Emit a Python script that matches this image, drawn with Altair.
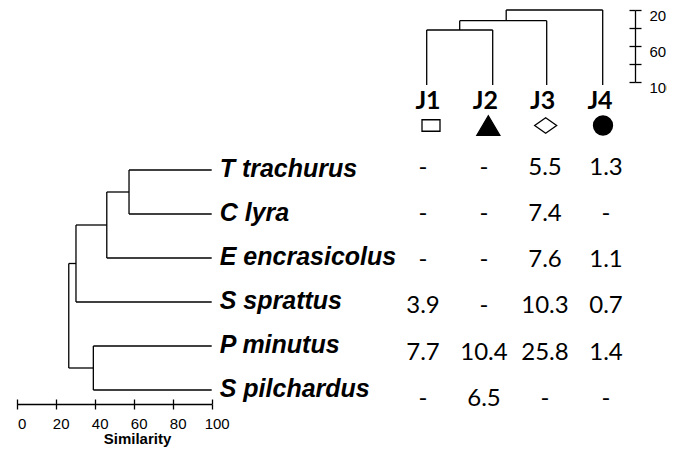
import altair as alt
import pandas as pd

# ---------------- data ----------------
species = ["T trachurus", "C lyra", "E encrasicolus", "S sprattus", "P minutus", "S pilchardus"]
# species dendrogram merges: (child a, child b, similarity %) ; "mK" = K-th merge
species_merges = [
    ("T trachurus", "C lyra", 57.6),
    ("m1", "E encrasicolus", 46.2),
    ("m2", "S sprattus", 30.4),
    ("P minutus", "S pilchardus", 39.3),
    ("m3", "m4", 26.7),
]
species_leaf_similarity = 100

groups = ["J1", "J2", "J3", "J4"]
group_merges = [
    ("J1", "J2", 42.2),
    ("m1", "J3", 31.9),
    ("m2", "J4", 20.0),
]
group_leaf_similarity = 103.3  # leaf stems hang slightly below the 100 mark

j1 = [None, None, None, 3.9, 7.7, None]
j2 = [None, None, None, None, 10.4, 6.5]
j3 = [5.5, 7.4, 7.6, 10.3, 25.8, None]
j4 = [1.3, None, 1.1, 0.7, 1.4, None]

left_ticks = [0, 20, 40, 60, 80, 100]
top_ticks = [20, 40, 60, 80, 100]


# ---------------- helpers ----------------
def dendro(leaves, merges, leaf_sim):
    pos = {l: i for i, l in enumerate(leaves)}
    sim = {l: leaf_sim for l in leaves}
    conn, stems = [], []
    for k, (a, b, s) in enumerate(merges, start=1):
        conn.append({"s": s, "p": pos[a], "p2": pos[b]})
        for c in (a, b):
            stems.append({"s": s, "s2": sim[c], "p": pos[c]})
        pos[f"m{k}"] = (pos[a] + pos[b]) / 2
        sim[f"m{k}"] = s
    return pd.DataFrame(conn), pd.DataFrame(stems)


left_conn, left_stems = dendro(species, species_merges, species_leaf_similarity)
top_conn, top_stems = dendro(groups, group_merges, group_leaf_similarity)

species_df = pd.DataFrame({"name": species, "pos": range(len(species)),
                           "sim": [species_leaf_similarity] * len(species)})
groups_df = pd.DataFrame({"g": groups, "i": range(len(groups))})

rows = []
for ci, col in enumerate([j1, j2, j3, j4]):
    for ri, v in enumerate(col):
        rows.append({"c": ci, "r": ri, "t": "-" if v is None else f"{v:.1f}"})
table_df = pd.DataFrame(rows)

# ---------------- scales (layout) ----------------
W, H = 659, 439
LX = alt.Scale(domain=[0, 100], range=[8.7, 203.7])
LY = alt.Scale(domain=[0, 5], range=[162, 382])
TX = alt.Scale(domain=[0, 1, 2, 3], range=[418.7, 484.7, 538.7, 594.7])
TY = alt.Scale(domain=[20, 100], range=[2, 74])
VX = alt.Scale(domain=[0, 3], range=[415, 598])
VY = alt.Scale(domain=[0, 5], range=[160, 390.7])
JX = alt.Scale(domain=[0, 3], range=[420, 592])
SX = alt.Scale(domain=[0, 3], range=[423, 595])

LINE = dict(color="black", strokeWidth=1.3)
SANS = "Liberation Sans"
CAL = "Lato"

# left dendrogram
left_v = alt.Chart(left_conn).mark_rule(**LINE).encode(
    x=alt.X("s:Q", scale=LX, axis=alt.Axis(
        orient="bottom", offset=396 - H, values=left_ticks, tickSize=5,
        labelPadding=7, labelOffset=5, labelFontSize=15, labelFont=SANS, labelFlush=False,
        title="Similarity", titleX=129, titleY=39.5, titleBaseline="alphabetic",
        titleFont=SANS, titleFontSize=15, titleFontWeight="bold", titleColor="black")),
    y=alt.Y("p:Q", scale=LY, axis=None),
    y2="p2:Q",
)
left_h = alt.Chart(left_stems).mark_rule(**LINE).encode(
    x=alt.X("s:Q", scale=LX, axis=alt.Axis(
        orient="top", offset=-396, values=left_ticks, tickSize=5,
        labels=False, domain=False, title=None)),
    x2="s2:Q",
    y=alt.Y("p:Q", scale=LY, axis=None),
)
labels = alt.Chart(species_df).mark_text(
    align="left", baseline="middle", dx=8, dy=-1, font=SANS, fontSize=25,
    fontStyle="italic", fontWeight="bold", color="black").encode(
    x=alt.X("sim:Q", scale=LX, axis=None),
    y=alt.Y("pos:Q", scale=LY, axis=None),
    text="name:N",
)

# top dendrogram
top_h = alt.Chart(top_conn).mark_rule(**LINE).encode(
    x=alt.X("p:Q", scale=TX, axis=None),
    x2="p2:Q",
    y=alt.Y("s:Q", scale=TY, axis=alt.Axis(
        orient="right", offset=627 - W, values=top_ticks, tickSize=6,
        labelPadding=8, labelOffset=5, labelFontSize=15, labelFont=SANS, labelFlush=False,
        labelExpr="datum.value % 40 == 20 ? datum.label : ''", title=None)),
)
top_v = alt.Chart(top_stems).mark_rule(**LINE).encode(
    x=alt.X("p:Q", scale=TX, axis=None),
    y=alt.Y("s:Q", scale=TY, axis=alt.Axis(
        orient="left", offset=-627, values=top_ticks, tickSize=6,
        labels=False, domain=False, title=None)),
    y2="s2:Q",
)

jlab = alt.Chart(groups_df).mark_text(
    align="center", baseline="middle", font=CAL, fontSize=25, fontWeight="bold",
    color="black").encode(
    x=alt.X("i:Q", scale=JX, axis=None),
    y=alt.value(92.5),
    text="g:N",
)

RECT = "M-1,-0.64H1V0.64H-1Z"
TRI = "M0,-0.85L1,0.85L-1,0.85Z"
DIA = "M0,-0.7L1,0L0,0.7L-1,0Z"
syms = alt.Chart(groups_df).mark_point(
    filled=True, stroke="black", strokeWidth=1.3, opacity=1, fillOpacity=1).encode(
    x=alt.X("i:Q", scale=SX, axis=None),
    y=alt.value(117.5),
    shape=alt.Shape("g:N", scale=alt.Scale(domain=groups, range=[RECT, TRI, DIA, "circle"]), legend=None),
    fill=alt.Fill("g:N", scale=alt.Scale(domain=groups, range=["white", "black", "white", "black"]), legend=None),
    size=alt.Size("i:Q", scale=alt.Scale(domain=[0, 1, 2, 3], range=[324, 529, 484, 361], zero=False), legend=None),
)

table = alt.Chart(table_df).mark_text(
    align="center", baseline="middle", font=CAL, fontSize=24, color="black").encode(
    x=alt.X("c:Q", scale=VX, axis=None),
    y=alt.Y("r:Q", scale=VY, axis=None),
    text="t:N",
)

chart = alt.layer(left_v, left_h, labels, top_h, top_v, jlab, syms, table).resolve_scale(
    x="independent", y="independent", shape="independent", fill="independent", size="independent"
).properties(
    width=W, height=H, padding=0,
    autosize=alt.AutoSizeParams(type="none"), background="white",
).configure_view(strokeWidth=0).configure_axis(
    grid=False, domainColor="black", tickColor="black", labelColor="black",
    domainWidth=1.3, tickWidth=1.3,
)

chart.save("out.html", embed_options={"renderer": "svg", "actions": False})
